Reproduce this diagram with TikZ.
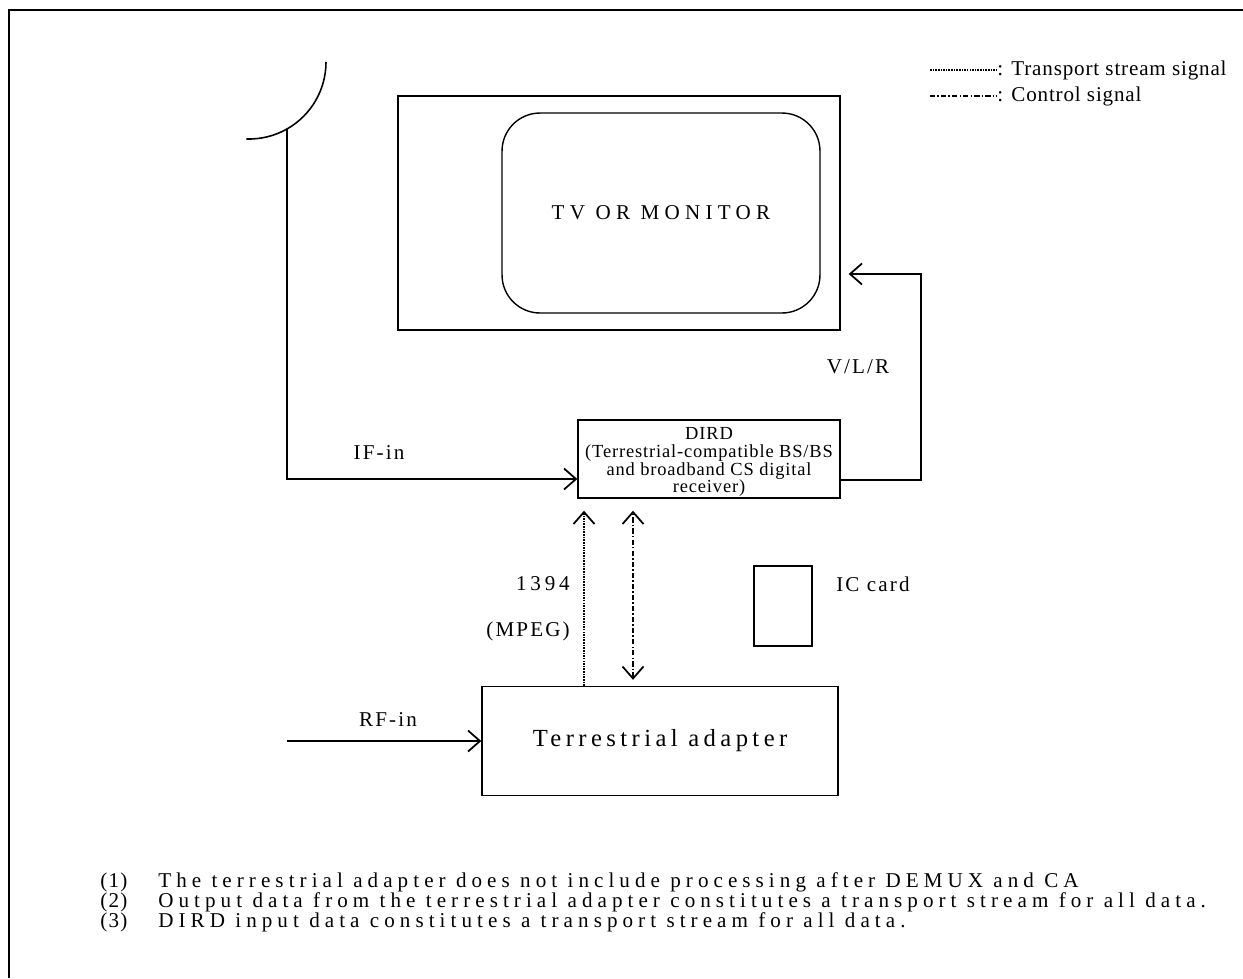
\documentclass[tikz,border=0pt]{standalone}
\usepackage{fontspec}
\setmainfont{Liberation Serif}
\usetikzlibrary{arrows.meta,positioning}
\newcommand{\spacedfont}[2]{\fontsize{#1}{#1}\selectfont\addfontfeature{LetterSpace=#2}}

\begin{document}
\begin{tikzpicture}[
  x=0.02cm, y=-0.02cm,
  >={Straight Barb[length=2.4mm,width=4.2mm,line width=1pt]},
  every node/.style={font=\spacedfont{12}{10}, inner sep=0pt},
  box/.style={draw, line width=0.8pt, align=center},
  link/.style={line width=1.1pt},
  ts/.style={line width=1.2pt, dash pattern=on 0.9pt off 0.6pt},
  ctl/.style={line width=1.2pt, dash pattern=on 3pt off 1.2pt on 0.9pt off 1.2pt},
  note/.style={anchor=west, font=\spacedfont{12}{24}}
]
\useasboundingbox (0,0) rectangle (1243,978);
\draw[line width=0.8pt] (9,978) -- (9,10) -- (1243,10);

% legend
\coordinate (tsA) at (930,70);
\coordinate (ctlA) at (930,96);
\node[anchor=west, font=\spacedfont{12}{4}] (tslbl) at (997,70) {: Transport stream signal};
\node[anchor=west, font=\spacedfont{12}{4}] (ctllbl) at (997,96) {: Control signal};
\draw[ts] (tsA) -- (tslbl.west);
\draw[ctl] (ctlA) -- (ctllbl.west);

% antenna
\draw[line width=0.9pt] (326,62) arc[start angle=0, end angle=92, radius=77];
\coordinate (feed) at (287,129);

% boxes
\node[box, minimum width=8.84cm, minimum height=4.68cm] (tv) at (619,213) {};
\node[box, rounded corners=0.76cm, minimum width=6.36cm, minimum height=4cm, font=\spacedfont{12}{25}] (screen) at (661,213) {TV OR MONITOR};
\node[box, minimum width=5.24cm, minimum height=1.56cm] (dird) at (709,459) {};
\node[align=center, font=\fontsize{10.5}{10.2}\selectfont\addfontfeature{LetterSpace=4.6}] (dirdtxt) at (709,462)
  {DIRD\\(Terrestrial-compatible BS/BS\\and broadband CS digital\\receiver)};
\node[box, minimum width=1.16cm, minimum height=1.6cm] (card) at (783,606) {};
\node[anchor=west] (cardlbl) at (836,584) {IC card};
\node[box, minimum width=7.12cm, minimum height=2.18cm, font=\spacedfont{14}{18}] (adapter) at (660,741) {Terrestrial adapter};

% connectors
\draw[link,->] (feed) |- ([yshift=-0.4cm]dird.west);
\node (iflbl) at (379,453) {IF-in};
\draw[link,->,shorten >=0.16cm] ([yshift=-0.42cm]dird.east) -- ++(80,0) |- ([yshift=-1.22cm]tv.east);
\node (vlrlbl) at (858,367) {V/L/R};
\draw[ts,->,shorten >=0.24cm] (adapter.north -| 584,0) -- (584,0 |- dird.south);
\draw[ctl,<->,shorten >=0.24cm,shorten <=0.12cm] (adapter.north -| 633,0) -- (633,0 |- dird.south);
\node[anchor=east, font=\spacedfont{12}{18}] (buslbl) at (570,584) {1394};
\node[anchor=east] (mpeglbl) at (570,631) {(MPEG)};
\coordinate (rfA) at (287,741);
\draw[link,->] (rfA) -- (adapter.west);
\node (rflbl) at (388,720) {RF-in};

% notes
\node[note, font=\spacedfont{12}{6}] (n1) at (100,882) {(1)};
\node[note, font=\spacedfont{12}{6}] (n2) at (100,902) {(2)};
\node[note, font=\spacedfont{12}{6}] (n3) at (100,922) {(3)};
\node[note] (t1) at (158,882) {The terrestrial adapter does not include processing after DEMUX and CA};
\node[note] (t2) at (158,902) {Output data from the terrestrial adapter constitutes a transport stream for all data.};
\node[note] (t3) at (158,922) {DIRD input data constitutes a transport stream for all data.};
\end{tikzpicture}
\end{document}
